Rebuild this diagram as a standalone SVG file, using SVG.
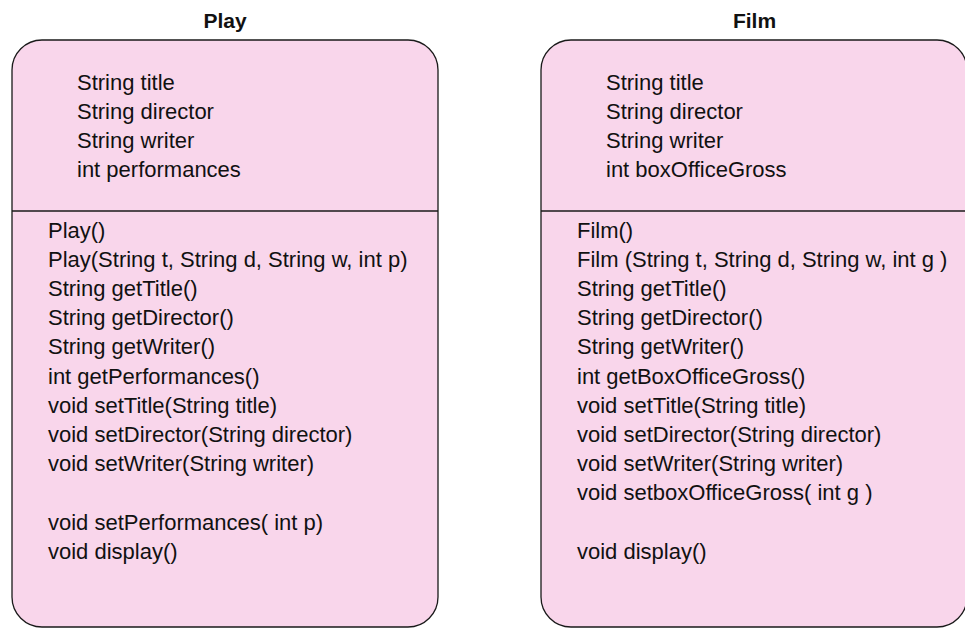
<svg xmlns="http://www.w3.org/2000/svg" width="965" height="628" viewBox="0 0 965 628">
<style>
  .box { fill: #F9D6EB; stroke: #1a1a1a; stroke-width: 1.3; }
  .div { stroke: #1a1a1a; stroke-width: 1.3; fill: none; }
  .t { font-family: "Liberation Sans", Arial, sans-serif; font-size: 22px; fill: #111; }
  .title { font-family: "Liberation Sans", Arial, sans-serif; font-size: 21px; font-weight: bold; fill: #111; text-anchor: middle; }
</style>
<rect width="965" height="628" fill="#ffffff"/>
<g id="play">
  <text class="title" x="225" y="28">Play</text>
  <rect class="box" x="12" y="40" width="426" height="587" rx="30" ry="30"/>
  <line class="div" x1="12" y1="211" x2="438" y2="211"/>
  <text class="t" x="77" y="90">String title</text>
  <text class="t" x="77" y="119">String director</text>
  <text class="t" x="77" y="148">String writer</text>
  <text class="t" x="77" y="177">int performances</text>
  <text class="t" x="48" y="237.5">Play()</text>
  <text class="t" x="48" y="266.7">Play(String t, String d, String w, int p)</text>
  <text class="t" x="48" y="295.9">String getTitle()</text>
  <text class="t" x="48" y="325.1">String getDirector()</text>
  <text class="t" x="48" y="354.3">String getWriter()</text>
  <text class="t" x="48" y="383.5">int getPerformances()</text>
  <text class="t" x="48" y="412.7">void setTitle(String title)</text>
  <text class="t" x="48" y="441.9">void setDirector(String director)</text>
  <text class="t" x="48" y="471.1">void setWriter(String writer)</text>
  <text class="t" x="48" y="529.5">void setPerformances( int p)</text>
  <text class="t" x="48" y="558.7">void display()</text>
</g>
<g id="film">
  <text class="title" x="754.5" y="28">Film</text>
  <rect class="box" x="541" y="40" width="426" height="587" rx="30" ry="30"/>
  <line class="div" x1="541" y1="211" x2="967" y2="211"/>
  <text class="t" x="606" y="90">String title</text>
  <text class="t" x="606" y="119">String director</text>
  <text class="t" x="606" y="148">String writer</text>
  <text class="t" x="606" y="177">int boxOfficeGross</text>
  <text class="t" x="577" y="237.5">Film()</text>
  <text class="t" x="577" y="266.7">Film (String t, String d, String w, int g )</text>
  <text class="t" x="577" y="295.9">String getTitle()</text>
  <text class="t" x="577" y="325.1">String getDirector()</text>
  <text class="t" x="577" y="354.3">String getWriter()</text>
  <text class="t" x="577" y="383.5">int getBoxOfficeGross()</text>
  <text class="t" x="577" y="412.7">void setTitle(String title)</text>
  <text class="t" x="577" y="441.9">void setDirector(String director)</text>
  <text class="t" x="577" y="471.1">void setWriter(String writer)</text>
  <text class="t" x="577" y="500.3">void setboxOfficeGross( int g )</text>
  <text class="t" x="577" y="558.7">void display()</text>
</g>
<g id="connectors"></g>
</svg>
